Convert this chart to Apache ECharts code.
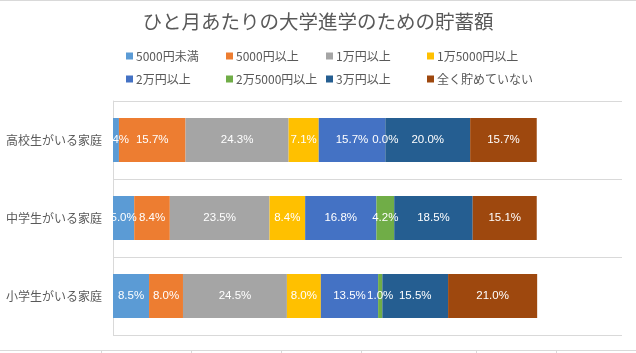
<!DOCTYPE html>
<html><head><meta charset="utf-8">
<script src="https://cdn.jsdelivr.net/npm/echarts@6/dist/echarts.min.js"></script>
<style>html,body{margin:0;padding:0;background:#fff}#c{width:636px;height:353px}</style>
</head><body><div id="c"></div>
<script>
// Data
const categories = ['高校生がいる家庭', '中学生がいる家庭', '小学生がいる家庭'];
const seriesNames = ['5000円未満', '5000円以上', '1万円以上', '1万5000円以上', '2万円以上', '2万5000円以上', '3万円以上', '全く貯めていない'];
const under5000 = [1.4, 5.0, 8.5];
const over5000 = [15.7, 8.4, 8.0];
const over10000 = [24.3, 23.5, 24.5];
const over15000 = [7.1, 8.4, 8.0];
const over20000 = [15.7, 16.8, 13.5];
const over25000 = [0.0, 4.2, 1.0];
const over30000 = [20.0, 18.5, 15.5];
const noSaving = [15.7, 15.1, 21.0];
const seriesValues = [under5000, over5000, over10000, over15000, over20000, over25000, over30000, noSaving];
const colors = ['#5B9BD5', '#ED7D31', '#A5A5A5', '#FFC000', '#4472C4', '#70AD47', '#255E91', '#9E480E'];

const legendLeft = [121, 221, 321, 422];
const legends = seriesNames.map((n, i) => ({
  data: [n],
  left: legendLeft[i % 4],
  top: i < 4 ? 45 : 68,
  icon: 'rect', itemWidth: 7, itemHeight: 7, itemGap: 0,
  textStyle: { fontSize: 12, color: '#595959', fontFamily: 'Noto Sans CJK JP', padding: [0, 0, 0, -2] },
  selectedMode: false
}));

const tickXs = [101, 191, 281, 361, 476, 556];
const graphics = [
  { type: 'line', shape: { x1: 0, y1: 0.5, x2: 636, y2: 0.5 }, style: { stroke: '#D9D9D9', lineWidth: 1 }, z: 100 },
  { type: 'line', shape: { x1: 0, y1: 350.5, x2: 636, y2: 350.5 }, style: { stroke: '#D9D9D9', lineWidth: 1 }, z: 100 },
  { type: 'rect', shape: { x: 102, y: 102, width: 10.5, height: 232 }, style: { fill: '#fff' }, z: 100 }
].concat(tickXs.map(x => ({ type: 'line', shape: { x1: x + 0.5, y1: 350, x2: x + 0.5, y2: 353 }, style: { stroke: '#D9D9D9', lineWidth: 1 }, z: 100 })));

const chart = echarts.init(document.getElementById('c'));
chart.setOption({
  animation: false,
  backgroundColor: '#fff',
  title: {
    text: 'ひと月あたりの大学進学のための貯蓄額',
    left: 'center', top: 7,
    textStyle: { fontSize: 19.5, fontWeight: 'normal', color: '#595959', fontFamily: 'Noto Sans CJK JP' }
  },
  legend: legends,
  graphic: graphics,
  grid: { left: 113, right: 14, top: 101, bottom: 18, containLabel: false },
  xAxis: {
    type: 'value', min: 0, max: 120,
    axisLabel: { show: false }, axisLine: { show: false }, axisTick: { show: false }, splitLine: { show: false }
  },
  yAxis: {
    type: 'category', data: categories, inverse: true,
    axisLine: { show: true, lineStyle: { color: '#D9D9D9' } },
    axisTick: { show: false },
    splitLine: { show: true, lineStyle: { color: '#D9D9D9' } },
    axisLabel: { fontSize: 12, color: '#595959', fontFamily: 'Noto Sans CJK JP', margin: 11 }
  },
  series: seriesNames.map((n, i) => ({
    name: n, type: 'bar', stack: 'total', barWidth: 44,
    itemStyle: { color: colors[i] },
    data: seriesValues[i],
    label: {
      show: true, position: 'inside', color: '#fff', fontSize: 11.5, fontFamily: 'Liberation Sans',
      formatter: p => p.value.toFixed(1) + '%'
    }
  }))
});
</script></body></html>
